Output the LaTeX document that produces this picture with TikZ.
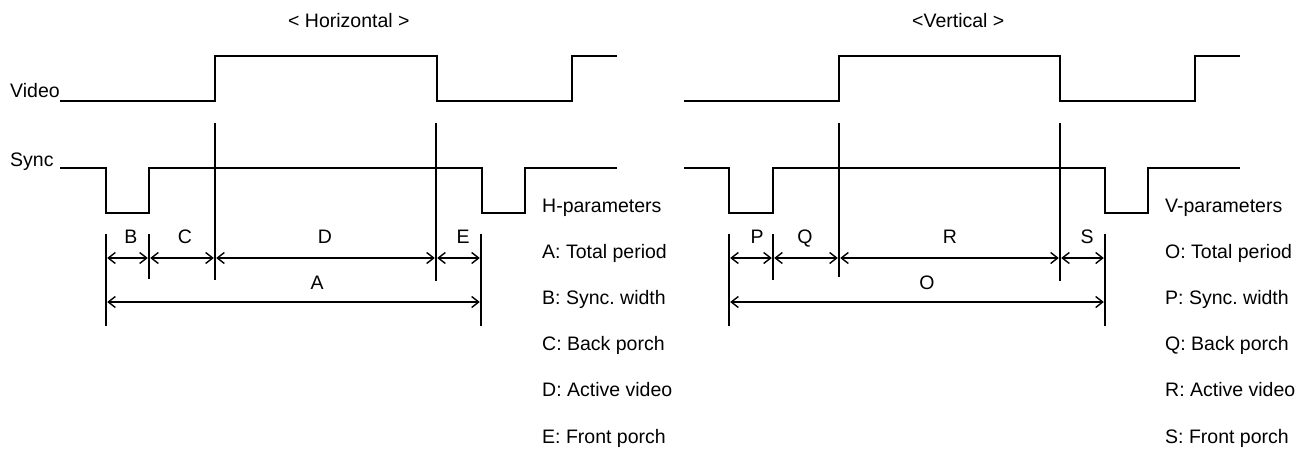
\documentclass[tikz,border=0pt]{standalone}
\usepackage{fontspec}
\setmainfont{Liberation Sans}
\usetikzlibrary{arrows.meta}
\frenchspacing
\begin{document}
\begin{tikzpicture}[x=1pt,y=-1pt,
  wave/.style={line width=1.4pt, line join=miter},
  guide/.style={line width=1.4pt},
  dim/.style={line width=1.4pt, {Straight Barb[length=7pt,width=11pt]}-{Straight Barb[length=7pt,width=11pt]}, shorten <=1.2pt, shorten >=1.2pt},
  lbl/.style={font=\fontsize{19.5}{22}\selectfont, inner sep=0pt, anchor=base},
  txt/.style={lbl, anchor=base west}]
\useasboundingbox (0,0) rectangle (1313,453);

% ---------- Horizontal ----------
\node[txt] (htitle) at (288,27) {< Horizontal >};
\node[txt] (hvid) at (10,97) {Video};
\node[txt] (hsync) at (10,166) {Sync};

\draw[wave] (60,101) -- (215,101) -- (215,56) -- (437,56) -- (437,101) -- (572,101) -- (572,56) -- (617,56);
\draw[wave] (60,168) -- (106,168) -- (106,213) -- (149,213) -- (149,168) -- (482,168) -- (482,213) -- (525,213) -- (525,168) -- (617,168);

\draw[guide] (215,123) -- (215,280);
\draw[guide] (436,123) -- (436,281);
\draw[guide] (106,234) -- (106,326);
\draw[guide] (149,234) -- (149,279);
\draw[guide] (481,234) -- (481,326);

\coordinate (h1) at (106,258);
\coordinate (h2) at (149,258);
\coordinate (h3) at (215,258);
\coordinate (h4) at (436,258);
\coordinate (h5) at (481,258);
\coordinate (ha1) at (106,302);
\coordinate (ha2) at (481,302);
\draw[dim] (h1) -- (h2);
\draw[dim] (h2) -- (h3);
\draw[dim] (h3) -- (h4);
\draw[dim] (h4) -- (h5);
\draw[dim] (ha1) -- (ha2);

\node[lbl] (lB) at (131,243) {B};
\node[lbl] (lC) at (185,243) {C};
\node[lbl] (lD) at (325,243) {D};
\node[lbl] (lE) at (463,243) {E};
\node[lbl] (lA) at (317,289) {A};

\node[txt] (hp0) at (542,212) {H-parameters};
\node[txt] (hp1) at (542,258) {A: Total period};
\node[txt] (hp2) at (542,304) {B: Sync. width};
\node[txt] (hp3) at (542,350) {C: Back porch};
\node[txt] (hp4) at (542,396) {D: Active video};
\node[txt] (hp5) at (542,443) {E: Front porch};

% ---------- Vertical ----------
\node[txt] (vtitle) at (912,27) {<Vertical >};

\draw[wave] (684,101) -- (839,101) -- (839,56) -- (1060,56) -- (1060,101) -- (1195,101) -- (1195,56) -- (1240,56);
\draw[wave] (684,168) -- (729,168) -- (729,213) -- (773,213) -- (773,168) -- (1105,168) -- (1105,213) -- (1148,213) -- (1148,168) -- (1240,168);

\draw[guide] (839,123) -- (839,277);
\draw[guide] (1060,123) -- (1060,281);
\draw[guide] (729,234) -- (729,326);
\draw[guide] (773,234) -- (773,280);
\draw[guide] (1105,234) -- (1105,326);

\coordinate (v1) at (729,258);
\coordinate (v2) at (773,258);
\coordinate (v3) at (839,258);
\coordinate (v4) at (1060,258);
\coordinate (v5) at (1105,258);
\coordinate (va1) at (729,302);
\coordinate (va2) at (1105,302);
\draw[dim] (v1) -- (v2);
\draw[dim] (v2) -- (v3);
\draw[dim] (v3) -- (v4);
\draw[dim] (v4) -- (v5);
\draw[dim] (va1) -- (va2);

\node[lbl] (lP) at (757,243) {P};
\node[lbl] (lQ) at (805,243) {Q};
\node[lbl] (lR) at (950,243) {R};
\node[lbl] (lS) at (1087,243) {S};
\node[lbl] (lO) at (927,289) {O};

\node[txt] (vp0) at (1165,212) {V-parameters};
\node[txt] (vp1) at (1165,258) {O: Total period};
\node[txt] (vp2) at (1165,304) {P: Sync. width};
\node[txt] (vp3) at (1165,350) {Q: Back porch};
\node[txt] (vp4) at (1165,396) {R: Active video};
\node[txt] (vp5) at (1165,443) {S: Front porch};
\end{tikzpicture}
\end{document}
